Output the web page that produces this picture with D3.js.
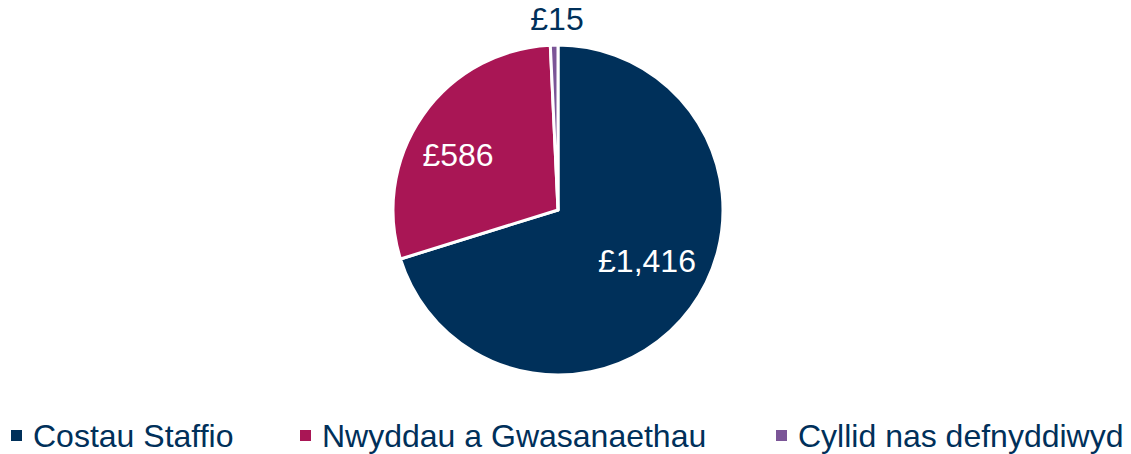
<!DOCTYPE html>
<html><head><meta charset="utf-8">
<script src="https://cdn.jsdelivr.net/npm/d3@7"></script>
<style>body{margin:0;background:#fff;} text{font-family:"Liberation Sans",Arial,sans-serif;}</style>
</head><body>
<svg id="c" width="1131" height="454"></svg>
<script>
const categories = ["Costau Staffio", "Nwyddau a Gwasanaethau", "Cyllid nas defnyddiwyd"];
const values = [1416, 586, 15];
const labels = ["£1,416", "£586", "£15"];
const colors = ["#00305A", "#A91655", "#7B5597"];
const legendX = [11, 300, 776];

const svg = d3.select("#c");
const cx = 558, cy = 210, r = 165;
const pie = d3.pie().sort(null).value(d => d)(values);
const arc = d3.arc().innerRadius(0).outerRadius(r);
const g = svg.append("g").attr("transform", `translate(${cx},${cy})`);
g.selectAll("path").data(pie).join("path")
  .attr("d", arc).attr("fill", (d,i) => colors[i])
  .attr("stroke", "#fff").attr("stroke-width", 3).attr("stroke-linejoin","round");

const labelPos = [[89, 62], [-100, -44], [-1, -180]];
g.selectAll("text.lbl").data(pie).join("text").attr("class","lbl")
  .attr("x", (d,i) => labelPos[i][0]).attr("y", (d,i) => labelPos[i][1])
  .attr("text-anchor","middle").attr("font-size", 32)
  .attr("fill", (d,i) => i === 2 ? "#00305A" : "#fff")
  .text((d,i) => labels[i]);

const lg = svg.append("g");
categories.forEach((c,i) => {
  lg.append("rect").attr("x", legendX[i]).attr("y", 430).attr("width", 11).attr("height", 11).attr("fill", colors[i]);
  lg.append("text").attr("x", legendX[i] + 22).attr("y", 447).attr("font-size", 32).attr("fill", "#00305A").text(c);
});
</script>
</body></html>
